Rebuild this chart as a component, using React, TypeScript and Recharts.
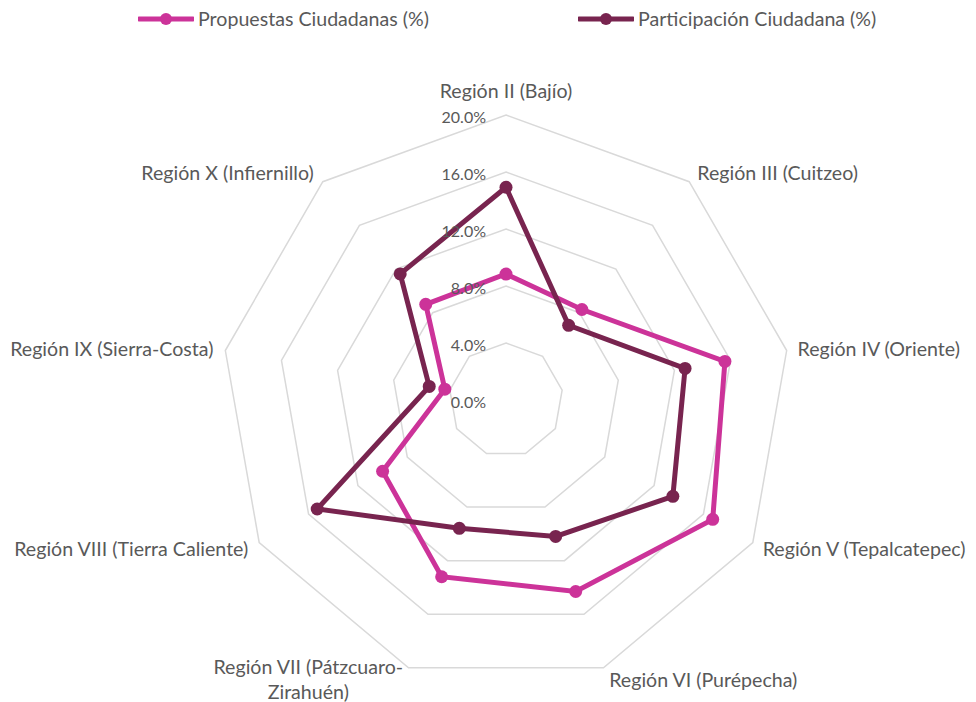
import { Legend, PolarAngleAxis, PolarGrid, PolarRadiusAxis, Radar, RadarChart } from 'recharts';

const regions = [
  'Región II (Bajío)',
  'Región III (Cuitzeo)',
  'Región IV (Oriente)',
  'Región V (Tepalcatepec)',
  'Región VI (Purépecha)',
  'Región VII (Pátzcuaro-Zirahuén)',
  'Región VIII (Tierra Caliente)',
  'Región IX (Sierra-Costa)',
  'Región X (Infiernillo)',
];
const propuestas = [0.0884, 0.0829, 0.156, 0.1675, 0.143, 0.132, 0.1, 0.0436, 0.0876];
const participacion = [0.1493, 0.0684, 0.1276, 0.1352, 0.1019, 0.0958, 0.153, 0.0547, 0.1155];
const radiusTicks = [0, 0.04, 0.08, 0.12, 0.16, 0.2];
const seriesNames = ['Propuestas Ciudadanas (%)', 'Participación Ciudadana (%)'];

const data = regions.map((region, i) => ({
  region,
  propuestas: propuestas[i],
  participacion: participacion[i],
}));

const CY = 400;
const R = 285;
const FONT = 'Lato, "Open Sans", sans-serif';
const TEXT = '#595959';
const PINK = '#CC3399';
const PLUM = '#78244F';
const LABEL_SIZE = 19.6;

function AngleTick(props: any) {
  const { x, y, textAnchor, payload } = props;
  const label: string = payload.value;
  const common = { fontFamily: FONT, fontSize: LABEL_SIZE, fill: TEXT, dominantBaseline: 'central' as const };
  if (textAnchor === 'middle') {
    return (
      <text x={x} y={y - 17} textAnchor="middle" {...common}>
        {label}
      </text>
    );
  }
  const dy = ((y - CY) / R) * 4;
  const dx = textAnchor === 'start' ? 3 : -4;
  if (label.length > 30) {
    // Excel wraps long category names after the hyphen
    const cut = label.lastIndexOf('-') + 1;
    const lines = [label.slice(0, cut), label.slice(cut)];
    const half = (lines[0].length * 8.5) / 2;
    const mid = textAnchor === 'end' ? x + dx - half : x + dx + half;
    return (
      <g>
        {lines.map((line, i) => (
          <text key={i} x={mid} y={y + dy - 12.5 + i * 25} textAnchor="middle" {...common}>
            {line}
          </text>
        ))}
      </g>
    );
  }
  return (
    <text x={x + dx} y={y + dy} textAnchor={textAnchor} {...common}>
      {label}
    </text>
  );
}

function RadiusTick(props: any) {
  const { x, y, payload } = props;
  return (
    <text
      x={x - 20}
      y={y + 1.5}
      textAnchor="end"
      dominantBaseline="central"
      fontFamily={FONT}
      fontSize={16}
      fill={TEXT}
    >
      {(payload.value * 100).toFixed(1)}%
    </text>
  );
}

// polygon + markers, drawn from the points recharts computed
function seriesShape(color: string) {
  return (props: any) => {
    const pts: any[] = props.points || [];
    const d = pts.map((p, i) => `${i ? 'L' : 'M'}${p.x},${p.y}`).join(' ') + ' Z';
    return (
      <g>
        <path d={d} fill="none" stroke={color} strokeWidth={5} strokeLinejoin="miter" />
        {pts.map((p, i) => (
          <circle key={i} cx={p.x} cy={p.y} r={6.5} fill={color} />
        ))}
      </g>
    );
  };
}

function LegendContent(props: any) {
  const items = [...(props.payload || [])].sort(
    (a: any, b: any) => seriesNames.indexOf(a.value) - seriesNames.indexOf(b.value),
  );
  return (
    <div
      style={{
        display: 'flex',
        paddingLeft: 138,
        fontFamily: FONT,
        fontSize: LABEL_SIZE,
        color: TEXT,
      }}
    >
      {items.map((item: any, i: number) => (
        <div key={item.value} style={{ display: 'flex', alignItems: 'center', width: i === 0 ? 440 : 'auto' }}>
          <svg width={56} height={14}>
            <line x1={1} x2={55} y1={7} y2={7} stroke={item.color} strokeWidth={5} strokeLinecap="round" />
            <circle cx={28} cy={7} r={6} fill={item.color} />
          </svg>
          <span style={{ marginLeft: 4 }}>{item.value}</span>
        </div>
      ))}
    </div>
  );
}

export default function App() {
  return (
    <div style={{ position: 'absolute', left: 0, top: 0, background: '#fff' }}>
      <RadarChart
        width={976}
        height={702}
        data={data}
        cx={506}
        cy={CY}
        outerRadius={R}
        margin={{ top: 0, right: 0, bottom: 0, left: 0 }}
      >
        <PolarGrid gridType="polygon" radialLines={false} stroke="#D9D9D9" strokeWidth={1.5} />
        <PolarAngleAxis dataKey="region" tick={AngleTick} axisLine={false} tickLine={false} />
        <PolarRadiusAxis
          angle={90}
          domain={[0, 0.2]}
          ticks={radiusTicks}
          tick={RadiusTick}
          axisLine={false}
          tickLine={false}
        />
        <Radar
          name={seriesNames[0]}
          dataKey="propuestas"
          stroke={PINK}
          fill={PINK}
          fillOpacity={0}
          shape={seriesShape(PINK)}
          dot={false}
          isAnimationActive={false}
        />
        <Radar
          name={seriesNames[1]}
          dataKey="participacion"
          stroke={PLUM}
          fill={PLUM}
          fillOpacity={0}
          shape={seriesShape(PLUM)}
          dot={false}
          isAnimationActive={false}
        />
        <Legend verticalAlign="top" content={LegendContent} wrapperStyle={{ top: 7, left: 0, width: 976 }} />
      </RadarChart>
    </div>
  );
}
